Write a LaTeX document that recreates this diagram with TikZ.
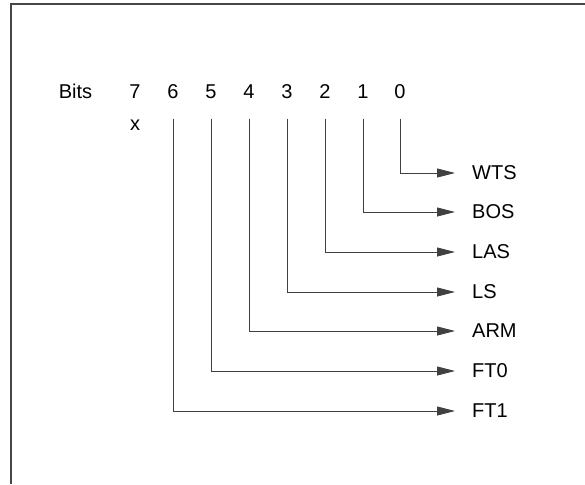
\documentclass[tikz,border=0pt]{standalone}
\usepackage{fontspec}
\setmainfont{Liberation Sans}
\usetikzlibrary{arrows.meta}
\begin{document}
\begin{tikzpicture}[x=1pt,y=-1pt,
  lbl/.style={font=\fontsize{20}{24}\selectfont, inner sep=0pt},
  conn/.style={draw=black!75, line width=0.9pt, -{Triangle[length=18pt,width=9pt]}, shorten >=17pt},
  frame/.style={draw=black!72, line width=2pt}]
\useasboundingbox (0,0) rectangle (585,484);
\draw[frame] (585,4) -- (10.5,4) -- (10.5,484);
% header
\node[lbl, anchor=base] (bits) at (75.5,98.5) {Bits};
\foreach \k/\xx in {7/135,6/173,5/211,4/249,3/287,2/325,1/363,0/400}{
  \node[lbl, anchor=base] (b\k) at (\xx,98.5) {\k};
}
\node[lbl, anchor=base] (x7) at (135,130.5) {x};
% line starts
\foreach \k in {0,...,6}{
  \path (b\k.base) ++(0,20) coordinate (s\k);
}
% output labels
\node[lbl, anchor=west] (wts) at (472,173) {WTS};
\node[lbl, anchor=west] (bos) at (472,212) {BOS};
\node[lbl, anchor=west] (las) at (472,252) {LAS};
\node[lbl, anchor=west] (ls)  at (472,292) {LS};
\node[lbl, anchor=west] (arm) at (472,331) {ARM};
\node[lbl, anchor=west] (ft0) at (472,371) {FT0};
\node[lbl, anchor=west] (ft1) at (472,411) {FT1};
% connectors
\draw[conn] (s0) |- (wts.west);
\draw[conn] (s1) |- (bos.west);
\draw[conn] (s2) |- (las.west);
\draw[conn] (s3) |- (ls.west);
\draw[conn] (s4) |- (arm.west);
\draw[conn] (s5) |- (ft0.west);
\draw[conn] (s6) |- (ft1.west);
\end{tikzpicture}
\end{document}
